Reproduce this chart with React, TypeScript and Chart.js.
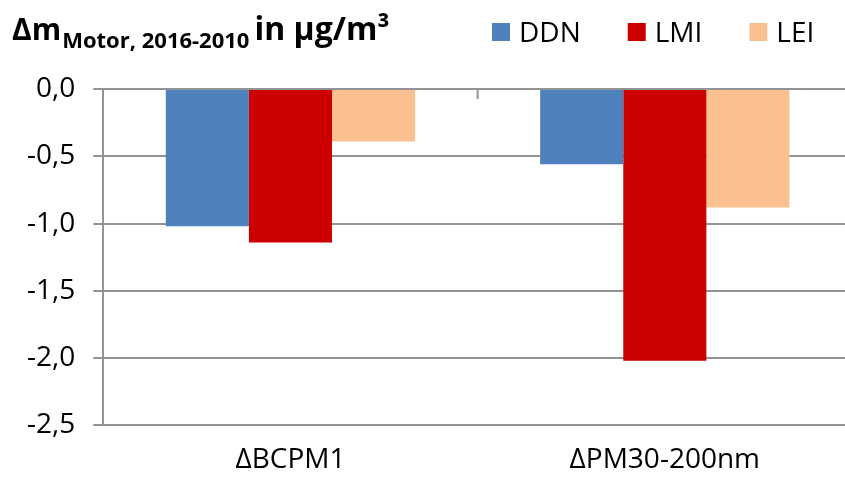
import React, { useEffect, useRef } from "react";
import { Chart, registerables } from "chart.js";

Chart.register(...registerables);

const categories = ["ΔBCPM1", "ΔPM30-200nm"];
const seriesNames = ["DDN", "LMI", "LEI"];
const ddnValues = [-1.02, -0.56];
const lmiValues = [-1.14, -2.02];
const leiValues = [-0.39, -0.88];
const seriesColors = ["#4F81BD", "#CC0000", "#FAC090"];
const yTicks = [0, -0.5, -1.0, -1.5, -2.0, -2.5];

const FONT = "'Open Sans', 'DejaVu Sans', sans-serif";

const decorPlugin = {
  id: "decor",
  afterDraw(chart: any) {
    const ctx = chart.ctx as CanvasRenderingContext2D;
    const area = chart.chartArea;
    ctx.save();
    // category tick marks at top axis (value 0), pointing down
    const xs = chart.scales.x;
    const n = chart.data.labels.length;
    ctx.strokeStyle = "#939393";
    ctx.lineWidth = 2;
    for (let i = 1; i < n; i++) {
      const x = (xs.getPixelForValue(i - 1) + xs.getPixelForValue(i)) / 2;
      ctx.beginPath();
      ctx.moveTo(x, area.top);
      ctx.lineTo(x, area.top + 10);
      ctx.stroke();
    }
    // title
    ctx.fillStyle = "#000";
    ctx.textBaseline = "alphabetic";
    ctx.textAlign = "left";
    let x = 12;
    ctx.font = `bold 30px ${FONT}`;
    ctx.fillText("Δm", x, 40);
    x += ctx.measureText("Δm").width + 1;
    ctx.font = `bold 22px ${FONT}`;
    ctx.fillText("Motor, 2016-2010", x, 48);
    x += ctx.measureText("Motor, 2016-2010").width + 5;
    ctx.font = `bold 32px ${FONT}`;
    ctx.fillText("in µg/m³", x, 40);
    // legend
    ctx.font = `28px ${FONT}`;
    let lx = 492;
    chart.data.datasets.forEach((ds: any) => {
      ctx.fillStyle = ds.backgroundColor;
      ctx.fillRect(lx, 23, 18, 18);
      ctx.fillStyle = "#000";
      ctx.fillText(ds.label, lx + 27, 42);
      lx += 27 + ctx.measureText(ds.label).width + 47;
    });
    ctx.restore();
  },
};

export default function App() {
  const ref = useRef<HTMLCanvasElement | null>(null);
  useEffect(() => {
    if (!ref.current) return;
    const values = [ddnValues, lmiValues, leiValues];
    const chart = new Chart(ref.current, {
      type: "bar",
      data: {
        labels: categories,
        datasets: seriesNames.map((name, i) => ({
          label: name,
          data: values[i],
          backgroundColor: seriesColors[i],
          borderWidth: 0,
          categoryPercentage: 0.666,
          barPercentage: 1.0,
        })),
      },
      options: {
        responsive: false,
        animation: false,
        layout: { padding: { top: 89, left: 9, right: 0, bottom: -16 } },
        plugins: {
          legend: { display: false },
          title: { display: false },
          tooltip: { enabled: false },
        },
        scales: {
          x: {
            grid: { display: false, drawTicks: false },
            border: { display: false },
            ticks: {
              color: "#000",
              padding: 18,
              font: { family: FONT, size: 28 },
            },
          },
          y: {
            min: -2.5,
            max: 0,
            afterBuildTicks: (scale: any) => {
              scale.ticks = yTicks.map((v) => ({ value: v }));
            },
            grid: {
              color: "#939393",
              lineWidth: 2,
              tickLength: 10,
            },
            border: { display: true, color: "#939393", width: 2 },
            ticks: {
              color: "#000",
              padding: 18,
              font: { family: FONT, size: 28 },
              callback: (v: any) => Number(v).toFixed(1).replace(".", ","),
            },
          },
        },
      },
      plugins: [decorPlugin],
    });
    return () => chart.destroy();
  }, []);
  return (
    <canvas
      ref={ref}
      width={852}
      height={479}
      style={{ position: "fixed", left: 0, top: 0, width: 852, height: 479 }}
    />
  );
}
